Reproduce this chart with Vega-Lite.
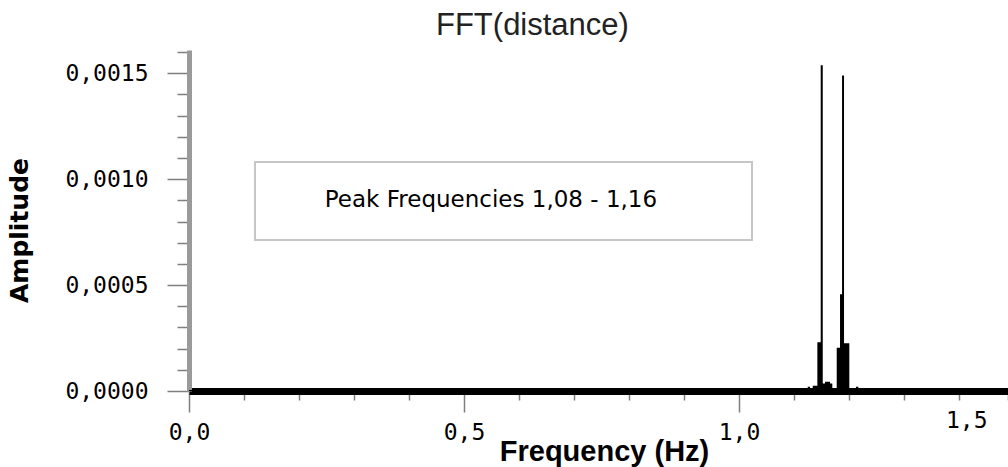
{
  "$schema": "https://vega.github.io/schema/vega-lite/v6.json",
  "width": 819,
  "height": 341,
  "autosize": "none",
  "padding": {"left": 189, "top": 50, "right": 0, "bottom": 76},
  "background": "white",
  "config": {"view": {"stroke": null}},
  "title": {
    "text": "FFT(distance)",
    "anchor": "start",
    "frame": "group",
    "dx": 247,
    "dy": 38,
    "font": "Liberation Sans",
    "fontSize": 31,
    "fontWeight": "normal",
    "color": "#222222",
    "baseline": "alphabetic",
    "offset": 13
  },
  "datasets": {
    "spectrum": [
      {"freq": 0.0, "amp": 0.000005},
      {"freq": 1.1249, "amp": 0.00002},
      {"freq": 1.1291, "amp": 0.000005},
      {"freq": 1.134, "amp": 0.000025},
      {"freq": 1.1424, "amp": 0.00023},
      {"freq": 1.1485, "amp": 0.001538},
      {"freq": 1.1522, "amp": 0.000036},
      {"freq": 1.1564, "amp": 0.000044},
      {"freq": 1.1655, "amp": 0.000036},
      {"freq": 1.1696, "amp": 0.000005},
      {"freq": 1.1733, "amp": 0.000012},
      {"freq": 1.1764, "amp": 0.000005},
      {"freq": 1.1776, "amp": 0.000204},
      {"freq": 1.1836, "amp": 0.000457},
      {"freq": 1.1873, "amp": 0.00149},
      {"freq": 1.1909, "amp": 0.000225},
      {"freq": 1.2005, "amp": 0.000005},
      {"freq": 1.2127, "amp": 0.00002},
      {"freq": 1.2169, "amp": 0.00001},
      {"freq": 1.2213, "amp": 0.000005},
      {"freq": 1.23, "amp": 0.000008},
      {"freq": 1.233, "amp": 0.000005},
      {"freq": 1.489, "amp": 0.000005}
    ],
    "box": [
      {"freq": 0.12, "freq2": 1.0236, "amp": 0.000713, "amp2": 0.001081}
    ],
    "note": [
      {"freq": 0.549, "amp": 0.00087, "label": "Peak Frequencies 1,08 - 1,16"}
    ]
  },
  "encoding": {
    "x": {
      "field": "freq",
      "type": "quantitative",
      "scale": {"domain": [0, 1.489], "nice": false, "zero": false},
      "axis": {
        "title": "Frequency (Hz)",
        "values": [0, 0.1, 0.2, 0.3, 0.4, 0.5, 0.6, 0.7, 0.8, 0.9, 1, 1.1, 1.2, 1.3, 1.4, 1.489],
        "labelExpr": "(abs(datum.value*2 - round(datum.value*2)) < 0.001 || datum.value > 1.48) ? replace(format(datum.value, '.1f'), '.', ',') : ''",
        "tickSize": {"condition": {"test": "abs(datum.value*2 - round(datum.value*2)) < 0.001", "value": 21}, "value": 9},
        "tickColor": "#7f7f7f",
        "tickWidth": 1.5,
        "domainColor": "black",
        "domainWidth": 7,
        "grid": false,
        "labelFont": "DejaVu Sans Mono",
        "labelFontSize": 23,
        "labelColor": "black",
        "labelPadding": 9,
        "labelAlign": {"condition": {"test": "datum.value > 1.48", "value": "right"}, "value": "center"},
        "labelOffset": {"condition": {"test": "datum.value > 1.48", "value": -21}, "value": 0},
        "labelOverlap": false,
        "labelBound": false,
        "labelFlush": false,
        "titleFont": "Liberation Sans",
        "titleFontWeight": "bold",
        "titleFontSize": 29,
        "titleColor": "black",
        "titleBaseline": "alphabetic",
        "titleAlign": "center",
        "titleY": 69,
        "titleX": 415
      }
    },
    "y": {
      "field": "amp",
      "type": "quantitative",
      "scale": {"domain": [0, 0.00161], "nice": false},
      "axis": {
        "title": "Amplitude",
        "values": [0, 0.0001, 0.0002, 0.0003, 0.0004, 0.0005, 0.0006, 0.0007, 0.0008, 0.0009, 0.001, 0.0011, 0.0012, 0.0013, 0.0014, 0.0015, 0.0016],
        "labelExpr": "abs(datum.value*2000 - round(datum.value*2000)) < 0.01 ? replace(format(datum.value, '.4f'), '.', ',') : ''",
        "tickSize": {"condition": {"test": "abs(datum.value*2000 - round(datum.value*2000)) < 0.01", "value": 22}, "value": 12},
        "tickColor": "#7f7f7f",
        "tickWidth": 1.5,
        "domainColor": "#9a9a9a",
        "domainWidth": 5,
        "grid": false,
        "labelFont": "DejaVu Sans Mono",
        "labelFontSize": 23,
        "labelColor": "black",
        "labelPadding": 19,
        "labelOverlap": false,
        "labelBound": false,
        "labelFlush": false,
        "titleFont": "DejaVu Sans",
        "titleFontWeight": "bold",
        "titleFontSize": 25,
        "titleColor": "black",
        "titleAngle": 270,
        "titleBaseline": "alphabetic",
        "titleAlign": "center",
        "titleX": -162,
        "titleY": 180
      }
    }
  },
  "layer": [
    {
      "data": {"name": "box"},
      "mark": {"type": "rect", "fill": "white", "stroke": "#c6c6c6", "strokeWidth": 2},
      "encoding": {
        "x2": {"field": "freq2"},
        "y2": {"field": "amp2"}
      }
    },
    {
      "data": {"name": "note"},
      "mark": {"type": "text", "font": "DejaVu Sans", "fontSize": 23, "color": "black", "align": "center", "baseline": "alphabetic"},
      "encoding": {
        "text": {"field": "label", "type": "nominal"}
      }
    },
    {
      "data": {"name": "spectrum"},
      "mark": {"type": "area", "interpolate": "step-after", "color": "black"}
    }
  ]
}
